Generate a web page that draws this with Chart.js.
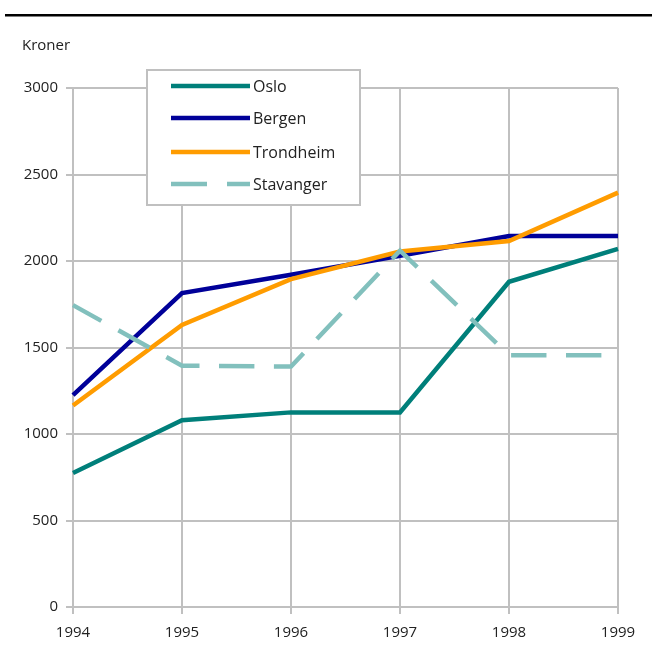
<!DOCTYPE html>
<html>
<head>
<meta charset="utf-8">
<script src="https://cdn.jsdelivr.net/npm/chart.js@4/dist/chart.umd.min.js"></script>
<style>
  html, body { margin: 0; padding: 0; background: #fff; }
  #wrap { width: 652px; height: 646px; position: relative; }
</style>
</head>
<body>
<div id="wrap"><canvas id="chart" width="652" height="646"></canvas></div>
<script>
// Data
const years = ['1994', '1995', '1996', '1997', '1998', '1999'];
const oslo      = [775, 1080, 1125, 1125, 1880, 2070];
const bergen    = [1225, 1815, 1920, 2030, 2145, 2145];
const trondheim = [1165, 1630, 1895, 2055, 2115, 2395];
const stavanger = [1745, 1395, 1390, 2060, 1455, 1455];
const yTicks = [0, 500, 1000, 1500, 2000, 2500, 3000];

const FONT = '"Open Sans", "Noto Sans", sans-serif';
const GRID = '#c0c0c0';

// Frame: top rule, unit label and the boxed legend inside the plot
const framePlugin = {
  id: 'frame',
  beforeDraw(chart) {
    const c = chart.ctx;
    c.save();
    c.fillStyle = '#fff';
    c.fillRect(0, 0, chart.width, chart.height);
    c.strokeStyle = '#000';
    c.lineWidth = 2.5;
    c.beginPath();
    c.moveTo(5, 15.25);
    c.lineTo(652, 15.25);
    c.stroke();
    c.fillStyle = '#222';
    c.font = '15px ' + FONT;
    c.textBaseline = 'middle';
    c.fillText('Kroner', 22, 46);
    c.restore();
  },
  afterDatasetsDraw(chart) {
    const c = chart.ctx;
    c.save();
    c.fillStyle = '#fff';
    c.fillRect(147, 70, 213, 135);
    c.strokeStyle = GRID;
    c.lineWidth = 2;
    c.strokeRect(147, 70, 213, 135);
    const rows = [86, 118, 152, 184];
    chart.data.datasets.forEach((ds, i) => {
      c.strokeStyle = ds.borderColor;
      c.lineWidth = 4.5;
      c.setLineDash(i === 3 ? [36, 20] : []);
      c.beginPath();
      c.moveTo(171, rows[i]);
      c.lineTo(250, rows[i]);
      c.stroke();
      c.setLineDash([]);
      c.fillStyle = '#222';
      c.font = '16px ' + FONT;
      c.textBaseline = 'middle';
      c.fillText(ds.label, 253, rows[i] + 1);
    });
    c.restore();
  }
};

const ctx = document.getElementById('chart').getContext('2d');
new Chart(ctx, {
  type: 'line',
  data: {
    labels: years,
    datasets: [
      { label: 'Oslo', data: oslo, borderColor: '#007f7a', order: 3 },
      { label: 'Bergen', data: bergen, borderColor: '#000099', order: 2 },
      { label: 'Trondheim', data: trondheim, borderColor: '#ff9c00', order: 1 },
      { label: 'Stavanger', data: stavanger, borderColor: '#82c0bd', borderDash: [35.4, 19.5], borderDashOffset: 3, order: 0 }
    ].map(d => Object.assign({ borderWidth: 4.5, pointRadius: 0, tension: 0, fill: false, borderCapStyle: 'butt' }, d))
  },
  options: {
    responsive: false,
    animation: false,
    layout: { padding: { top: 88, right: 34, left: 0, bottom: 0 } },
    plugins: { legend: { display: false }, tooltip: { enabled: false } },
    scales: {
      x: {
        offset: false,
        grid: { color: GRID, lineWidth: 2, tickLength: 7 },
        border: { color: GRID, width: 2 },
        ticks: { color: '#222', font: { family: FONT, size: 15 }, padding: 10, maxRotation: 0 },
        afterFit(scale) { scale.height = 39; }
      },
      y: {
        min: 0, max: 3000,
        afterBuildTicks(scale) { scale.ticks = yTicks.map(v => ({ value: v })); },
        grid: { color: GRID, lineWidth: 2, tickLength: 7 },
        border: { color: GRID, width: 2 },
        ticks: { color: '#222', font: { family: FONT, size: 15 }, padding: 8, callback: v => String(v) },
        afterFit(scale) { scale.width = 73; }
      }
    }
  },
  plugins: [framePlugin]
});
</script>
</body>
</html>
